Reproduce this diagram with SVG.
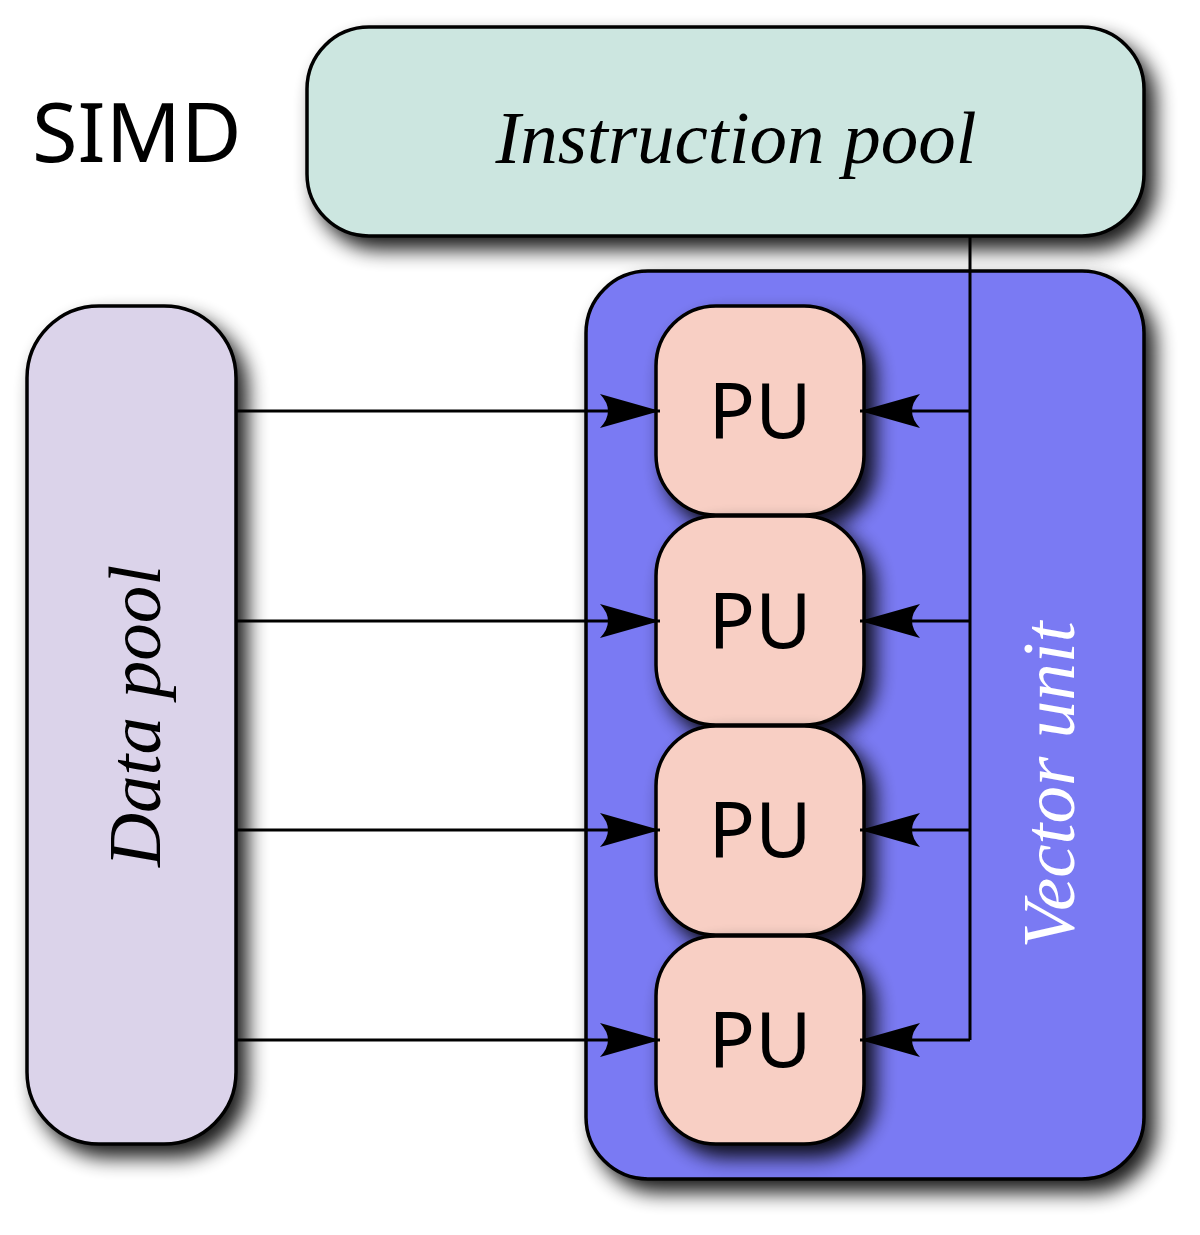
<svg xmlns="http://www.w3.org/2000/svg" width="1200" height="1235" viewBox="0 0 1200 1235">
<style>
.box{stroke:#000;stroke-width:3.5}
.lbl{font-family:"Liberation Serif","DejaVu Serif",serif;font-style:italic;font-size:75px}
.sans{font-family:"Noto Sans","DejaVu Sans",sans-serif}
.pu{fill:#f8cfc4}
.conn{stroke:#000;stroke-width:3;fill:none}
</style>
<defs>
<filter id="sh" x="-20%" y="-20%" width="150%" height="150%">
<feGaussianBlur in="SourceAlpha" stdDeviation="10"/>
<feOffset dx="10" dy="12" result="b"/>
<feComponentTransfer in="b" result="c"><feFuncA type="linear" slope="0.9"/></feComponentTransfer>
<feMerge><feMergeNode in="c"/><feMergeNode in="SourceGraphic"/></feMerge>
</filter>
<marker id="ah" markerUnits="userSpaceOnUse" viewBox="-62 -20 66 40" markerWidth="66" markerHeight="40" refX="0" refY="0" orient="auto">
<path d="M0,0 L-60,-17 Q-44,0 -60,17 Z" fill="#000"/>
</marker>
</defs>
<text x="32" y="162" class="sans" font-size="83">SIMD</text>
<g id="instruction-pool" filter="url(#sh)">
<rect x="307" y="27" width="837" height="209" rx="62" fill="#cce6e0" class="box"/>
<text x="736" y="163" text-anchor="middle" class="lbl">Instruction pool</text>
</g>
<g id="data-pool" filter="url(#sh)">
<rect x="27" y="306" width="209" height="838" rx="72" fill="#dbd3ea" class="box"/>
<text transform="translate(160,716) rotate(-90)" text-anchor="middle" class="lbl">Data pool</text>
</g>
<g id="vector-unit" filter="url(#sh)">
<rect x="586" y="271" width="558" height="908" rx="62" fill="#7a7af3" class="box"/>
<text transform="translate(1074,785) rotate(-90)" text-anchor="middle" class="lbl" fill="#fff">Vector unit</text>
</g>
<g id="pu1" filter="url(#sh)"><rect x="656" y="306" width="208" height="209" rx="60" class="box pu"/><text x="760" y="438" text-anchor="middle" class="sans" font-size="77">PU</text></g>
<g id="pu2" filter="url(#sh)"><rect x="656" y="516" width="208" height="209" rx="60" class="box pu"/><text x="760" y="648" text-anchor="middle" class="sans" font-size="77">PU</text></g>
<g id="pu3" filter="url(#sh)"><rect x="656" y="726" width="208" height="209" rx="60" class="box pu"/><text x="760" y="857" text-anchor="middle" class="sans" font-size="77">PU</text></g>
<g id="pu4" filter="url(#sh)"><rect x="656" y="936" width="208" height="208" rx="60" class="box pu"/><text x="760" y="1067" text-anchor="middle" class="sans" font-size="77">PU</text></g>
<g id="connectors">
<path class="conn" d="M236,411 H660" marker-end="url(#ah)"/>
<path class="conn" d="M236,621 H660" marker-end="url(#ah)"/>
<path class="conn" d="M236,830 H660" marker-end="url(#ah)"/>
<path class="conn" d="M236,1040 H660" marker-end="url(#ah)"/>
<path class="conn" d="M970,236 V1040"/>
<path class="conn" d="M970,411 H860" marker-end="url(#ah)"/>
<path class="conn" d="M970,621 H860" marker-end="url(#ah)"/>
<path class="conn" d="M970,830 H860" marker-end="url(#ah)"/>
<path class="conn" d="M970,1040 H860" marker-end="url(#ah)"/>
</g>
</svg>
